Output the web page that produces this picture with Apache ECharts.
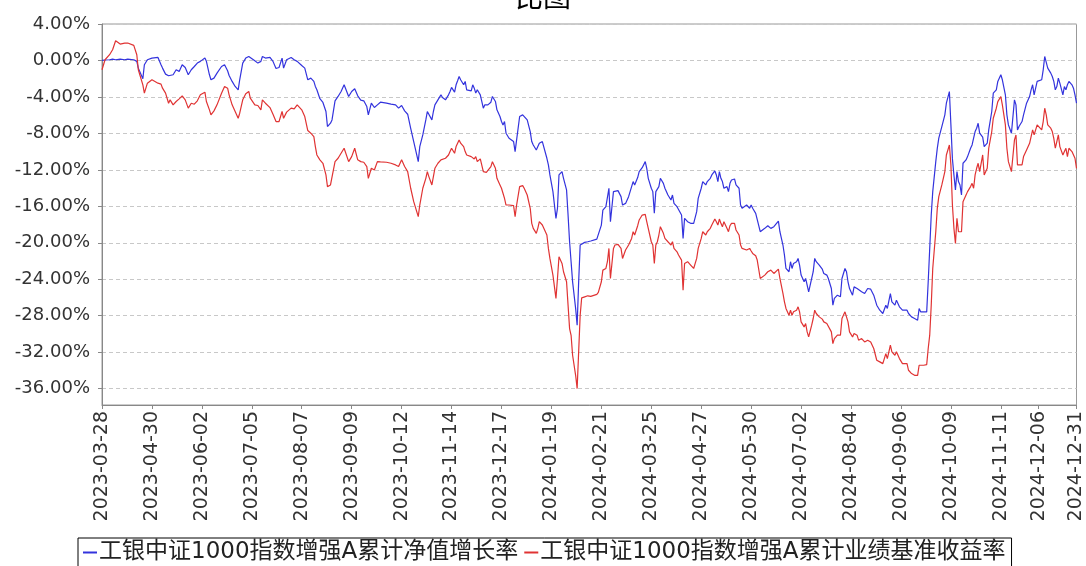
<!DOCTYPE html>
<html>
<head>
<meta charset="utf-8">
<script src="https://cdn.jsdelivr.net/npm/echarts@6/dist/echarts.min.js"></script>
<style>
html,body{margin:0;padding:0;background:#fff;}
#chart{width:1086px;height:566px;}
</style>
</head>
<body>
<div id="chart"></div>
<script>
const chartTitle = '比图';
const seriesNames = ['工银中证1000指数增强A累计净值增长率', '工银中证1000指数增强A累计业绩基准收益率'];
const xTickLabels = ['2023-03-28','2023-04-30','2023-06-02','2023-07-05','2023-08-07','2023-09-09','2023-10-12','2023-11-14','2023-12-17','2024-01-19','2024-02-21','2024-03-25','2024-04-27','2024-05-30','2024-07-02','2024-08-04','2024-09-06','2024-10-09','2024-11-11','2024-12-06','2024-12-31'];
const yTickValues = [4,0,-4,-8,-12,-16,-20,-24,-28,-32,-36];

const dates = [
'2023-03-28','2023-03-30','2023-04-02','2023-04-04','2023-04-06','2023-04-09','2023-04-12','2023-04-14','2023-04-18','2023-04-20','2023-04-21','2023-04-24','2023-04-25','2023-04-27','2023-04-30','2023-05-04','2023-05-06','2023-05-07','2023-05-09','2023-05-11','2023-05-12','2023-05-14','2023-05-16','2023-05-18','2023-05-20','2023-05-22','2023-05-24','2023-05-26','2023-05-28','2023-05-30','2023-06-01','2023-06-04','2023-06-05','2023-06-07','2023-06-08','2023-06-10','2023-06-12','2023-06-15','2023-06-17','2023-06-19','2023-06-20','2023-06-22','2023-06-24','2023-06-26','2023-06-27','2023-06-29','2023-07-01','2023-07-03',
'2023-07-04','2023-07-07','2023-07-09','2023-07-11','2023-07-12','2023-07-14','2023-07-17','2023-07-19','2023-07-21','2023-07-23','2023-07-25','2023-07-26','2023-07-28','2023-07-31','2023-08-02','2023-08-04','2023-08-07','2023-08-09','2023-08-11','2023-08-13','2023-08-15','2023-08-16','2023-08-17','2023-08-19','2023-08-21','2023-08-23','2023-08-24','2023-08-26','2023-08-27','2023-08-29','2023-08-31','2023-09-02','2023-09-04','2023-09-05','2023-09-07','2023-09-09','2023-09-11','2023-09-13','2023-09-15','2023-09-17','2023-09-19','2023-09-20','2023-09-22','2023-09-24','2023-09-26','2023-09-28','2023-10-02','2023-10-05','2023-10-08','2023-10-10','2023-10-12','2023-10-14','2023-10-16','2023-10-18','2023-10-20','2023-10-22','2023-10-23',
'2023-10-24','2023-10-26','2023-10-28','2023-10-29','2023-10-30','2023-11-01','2023-11-02','2023-11-03','2023-11-05','2023-11-07','2023-11-08','2023-11-10','2023-11-12','2023-11-13','2023-11-14','2023-11-16','2023-11-17','2023-11-18','2023-11-19','2023-11-20','2023-11-22','2023-11-23','2023-11-24','2023-11-25','2023-11-27','2023-11-28','2023-11-29','2023-11-30','2023-12-01','2023-12-03','2023-12-05','2023-12-06','2023-12-07','2023-12-08','2023-12-10','2023-12-11','2023-12-13','2023-12-14','2023-12-16','2023-12-17','2023-12-18','2023-12-19','2023-12-20','2023-12-22','2023-12-25','2023-12-26','2023-12-27','2023-12-29','2023-12-31','2024-01-01','2024-01-03','2024-01-05','2024-01-06','2024-01-07','2024-01-09','2024-01-10','2024-01-11','2024-01-13','2024-01-14','2024-01-16','2024-01-17','2024-01-18','2024-01-20','2024-01-22','2024-01-23','2024-01-24','2024-01-26','2024-01-27','2024-01-29','2024-01-30','2024-01-31','2024-02-01','2024-02-02','2024-02-04','2024-02-05','2024-02-06','2024-02-07','2024-02-08','2024-02-10','2024-02-12',
'2024-02-14','2024-02-18','2024-02-19','2024-02-21','2024-02-22','2024-02-24','2024-02-25','2024-02-26','2024-02-27','2024-02-29','2024-03-01','2024-03-03','2024-03-05','2024-03-06','2024-03-08','2024-03-10','2024-03-12','2024-03-13','2024-03-14','2024-03-16','2024-03-17','2024-03-19','2024-03-21','2024-03-22','2024-03-23','2024-03-25','2024-03-26','2024-03-27','2024-03-28','2024-03-29','2024-03-30','2024-03-31','2024-04-02','2024-04-03','2024-04-05','2024-04-07','2024-04-08','2024-04-09','2024-04-11','2024-04-12','2024-04-14','2024-04-15','2024-04-16','2024-04-18','2024-04-20','2024-04-22','2024-04-24','2024-04-25','2024-04-27','2024-04-28','2024-04-30','2024-05-01','2024-05-03','2024-05-04','2024-05-06','2024-05-07','2024-05-08','2024-05-09','2024-05-10','2024-05-11','2024-05-12','2024-05-14','2024-05-15','2024-05-16','2024-05-17','2024-05-19','2024-05-20','2024-05-22','2024-05-23','2024-05-24','2024-05-25','2024-05-27','2024-05-29','2024-05-30','2024-05-31','2024-06-02','2024-06-03','2024-06-05',
'2024-06-06','2024-06-08','2024-06-10','2024-06-12','2024-06-14','2024-06-15','2024-06-17','2024-06-18','2024-06-20','2024-06-21','2024-06-22','2024-06-24','2024-06-25','2024-06-26','2024-06-27','2024-06-29','2024-06-30','2024-07-01','2024-07-02','2024-07-04','2024-07-05','2024-07-06','2024-07-07','2024-07-09','2024-07-10','2024-07-11','2024-07-12','2024-07-14','2024-07-16','2024-07-17','2024-07-19','2024-07-20','2024-07-22','2024-07-23','2024-07-24','2024-07-26','2024-07-28','2024-07-29','2024-07-31','2024-08-01','2024-08-02','2024-08-03','2024-08-05','2024-08-06','2024-08-08','2024-08-09','2024-08-11','2024-08-12','2024-08-13','2024-08-15','2024-08-17','2024-08-18','2024-08-19','2024-08-21','2024-08-23','2024-08-24','2024-08-25','2024-08-27','2024-08-28','2024-08-30','2024-08-31','2024-09-02','2024-09-03','2024-09-05','2024-09-07','2024-09-08','2024-09-10','2024-09-11','2024-09-13','2024-09-15','2024-09-17','2024-09-18','2024-09-19','2024-09-21','2024-09-23',
'2024-09-24','2024-09-25','2024-09-26','2024-09-27','2024-09-29','2024-09-30','2024-10-01','2024-10-03','2024-10-05','2024-10-06','2024-10-08','2024-10-09','2024-10-10','2024-10-11','2024-10-12','2024-10-13','2024-10-14','2024-10-15','2024-10-16','2024-10-17','2024-10-19','2024-10-20','2024-10-22','2024-10-23','2024-10-24','2024-10-25','2024-10-26','2024-10-27','2024-10-28','2024-10-30','2024-10-31','2024-11-02','2024-11-03','2024-11-05','2024-11-06','2024-11-08','2024-11-09','2024-11-11','2024-11-12','2024-11-14','2024-11-15','2024-11-16','2024-11-18','2024-11-20','2024-11-21','2024-11-22','2024-11-23','2024-11-25','2024-11-26','2024-11-27','2024-11-28','2024-11-30','2024-12-01','2024-12-02','2024-12-03','2024-12-05','2024-12-06','2024-12-08','2024-12-09','2024-12-10','2024-12-11','2024-12-12','2024-12-14','2024-12-15','2024-12-16','2024-12-17','2024-12-18','2024-12-19','2024-12-20','2024-12-22','2024-12-23','2024-12-24','2024-12-25','2024-12-26','2024-12-27','2024-12-28','2024-12-29','2024-12-30','2024-12-31'
];

const navGrowth = [
0.00,0.05,0.08,0.15,0.08,0.15,0.08,0.15,0.08,-0.10,-0.84,-2.00,-0.47,0.08,0.26,0.33,-0.47,-0.84,-1.50,-1.68,-1.47,-1.57,-1.02,-1.20,-0.47,-0.77,-1.57,-1.02,-0.66,-0.29,-0.10,0.26,-0.10,-1.57,-2.12,-1.94,-1.39,-0.66,-0.47,-1.13,-1.65,-2.30,-2.85,-3.22,-2.12,-0.29,0.26,0.44,
0.26,-0.03,-0.29,-0.10,0.44,0.26,0.33,-0.10,-0.88,-0.77,0.26,-0.84,0.08,0.33,0.08,-0.10,-0.55,-0.84,-2.12,-1.94,-2.30,-2.85,-3.22,-4.20,-4.61,-5.60,-7.25,-6.88,-6.52,-4.43,-3.95,-3.40,-2.67,-2.49,-3.95,-3.40,-3.11,-3.88,-4.36,-4.43,-5.06,-5.97,-4.69,-5.16,-4.87,-4.58,-4.69,-4.80,-4.87,-5.23,-4.94,-5.53,-5.90,-7.44,-8.90,-10.37,-11.10,
-9.45,-8.17,-6.52,-5.60,-5.78,-6.52,-5.60,-4.87,-4.32,-3.77,-4.06,-4.32,-3.77,-3.40,-2.96,-3.48,-2.67,-2.23,-1.76,-2.12,-2.67,-2.30,-3.22,-3.22,-3.33,-2.67,-3.04,-3.58,-3.22,-3.77,-5.23,-4.87,-5.05,-4.87,-4.58,-3.95,-4.50,-5.42,-6.15,-6.70,-7.07,-6.70,-7.98,-8.53,-8.90,-10.00,-8.72,-6.15,-5.97,-6.15,-6.52,-7.80,-8.90,-9.27,-9.82,-9.63,-9.08,-8.90,-9.00,-10.73,-11.46,-12.56,-14.39,-17.32,-16.22,-12.56,-12.19,-12.93,-14.20,-16.96,-19.89,-22.09,-24.29,-27.20,-29.04,-24.29,-20.25,-20.07,-19.96,-19.89,
-19.81,-19.60,-19.45,-18.06,-16.41,-16.04,-15.86,-14.02,-17.69,-14.39,-14.20,-14.28,-14.94,-15.86,-15.68,-14.94,-13.84,-13.29,-13.66,-12.85,-12.19,-11.76,-11.10,-11.83,-12.93,-14.02,-14.39,-16.77,-14.39,-14.39,-13.84,-12.93,-13.48,-14.02,-14.76,-15.31,-14.76,-15.68,-16.04,-16.22,-16.96,-19.52,-17.32,-17.69,-17.87,-17.87,-16.59,-15.13,-14.02,-13.29,-13.66,-13.29,-12.93,-12.56,-12.12,-12.56,-13.29,-12.19,-12.93,-13.29,-14.02,-13.84,-14.39,-13.48,-13.11,-13.00,-13.66,-14.02,-15.86,-16.22,-16.04,-15.86,-16.22,-15.86,-16.22,-16.77,-16.96,-18.79,
-18.61,-18.42,-18.13,-18.42,-18.24,-18.42,-17.62,-18.79,-20.25,-21.35,-22.82,-23.18,-22.08,-22.82,-22.27,-22.08,-21.72,-22.45,-23.55,-24.28,-23.92,-24.65,-25.38,-23.92,-23.18,-21.72,-22.08,-22.45,-22.89,-23.37,-23.55,-23.92,-25.02,-26.85,-26.11,-25.75,-25.93,-23.92,-22.82,-23.18,-24.28,-25.02,-25.75,-24.84,-25.02,-25.20,-25.38,-25.20,-25.57,-25.02,-25.09,-25.02,-25.75,-26.85,-27.40,-27.21,-27.76,-26.85,-27.21,-25.57,-26.48,-26.85,-26.30,-27.03,-27.40,-27.58,-27.40,-27.76,-28.13,-28.31,-28.50,-27.21,-27.58,-27.58,-27.58,
-24.28,-20.62,-16.96,-14.39,-11.10,-9.64,-8.53,-7.25,-5.97,-4.69,-3.41,-7.07,-10.80,-12.56,-14.21,-12.19,-13.29,-13.66,-14.76,-11.28,-10.91,-10.55,-9.63,-9.27,-8.53,-7.80,-7.44,-6.89,-7.98,-8.42,-9.45,-9.08,-7.61,-5.60,-3.59,-3.22,-2.30,-1.57,-2.12,-3.77,-5.97,-7.07,-7.98,-4.32,-4.87,-7.62,-7.25,-6.70,-5.97,-5.79,-4.69,-3.96,-3.22,-2.67,-3.77,-2.30,-2.12,-2.12,-1.03,0.44,0.26,-0.84,-1.39,-1.76,-2.30,-3.22,-2.86,-1.94,-2.49,-3.77,-2.86,-3.22,-2.67,-2.30,-2.49,-2.67,-3.04,-3.77,-4.69
];

const benchmark = [
-1.02,0.08,0.63,1.18,2.16,1.80,1.91,1.91,1.65,0.63,-1.02,-2.68,-3.59,-2.49,-2.12,-2.49,-2.60,-3.04,-3.59,-4.69,-4.32,-4.87,-4.50,-4.21,-3.88,-4.32,-5.23,-4.69,-4.80,-4.43,-3.77,-3.48,-4.50,-5.42,-5.97,-5.53,-4.87,-3.59,-2.85,-3.04,-3.77,-4.87,-5.60,-6.34,-5.79,-4.32,-3.66,-3.40,
-4.14,-4.87,-4.94,-5.42,-4.32,-4.69,-5.17,-5.90,-6.70,-6.70,-5.60,-6.34,-5.67,-5.23,-5.31,-4.87,-5.42,-6.15,-7.69,-7.98,-8.35,-9.45,-10.37,-10.90,-11.28,-12.56,-13.84,-13.66,-13.48,-11.10,-10.73,-10.18,-9.63,-9.45,-11.10,-10.55,-9.63,-10.90,-11.10,-11.17,-11.64,-12.93,-11.83,-12.02,-11.10,-11.13,-11.17,-11.28,-11.46,-11.64,-10.90,-11.64,-12.19,-14.02,-15.49,-16.59,-17.14,
-15.86,-14.02,-12.93,-12.19,-12.74,-13.66,-12.74,-11.83,-11.28,-10.91,-11.10,-10.73,-10.37,-10.00,-9.63,-10.18,-9.45,-9.08,-8.72,-9.08,-9.45,-10.00,-10.37,-10.37,-10.55,-10.37,-10.80,-10.55,-11.10,-10.80,-12.19,-12.01,-12.27,-12.12,-11.64,-11.10,-11.83,-12.93,-13.66,-14.02,-14.57,-15.13,-15.86,-15.86,-15.93,-17.14,-15.86,-13.84,-13.73,-14.02,-14.76,-16.22,-17.87,-18.42,-18.97,-18.42,-17.69,-18.05,-18.24,-19.15,-20.62,-21.72,-23.55,-26.11,-23.92,-21.54,-22.27,-23.18,-24.28,-26.84,-29.41,-30.15,-32.34,-34.54,-36.00,-31.97,-27.94,-26.04,-25.93,-25.82,
-25.89,-25.67,-25.45,-24.28,-23.00,-22.82,-22.08,-20.62,-23.92,-20.62,-20.25,-20.18,-20.62,-21.72,-20.80,-20.25,-19.52,-18.79,-19.15,-18.13,-17.50,-16.96,-16.88,-17.69,-18.42,-19.89,-20.25,-22.27,-20.25,-19.89,-19.15,-18.24,-18.97,-19.52,-19.89,-20.25,-19.89,-20.62,-20.99,-21.35,-21.90,-25.20,-22.27,-22.08,-22.45,-22.82,-21.72,-20.62,-19.52,-18.79,-19.15,-18.79,-18.42,-18.05,-17.40,-17.69,-18.05,-17.40,-17.87,-18.24,-17.69,-18.42,-18.79,-18.13,-17.87,-17.87,-18.60,-19.15,-20.25,-20.62,-20.44,-20.80,-20.62,-20.91,-21.17,-21.43,-21.90,-23.92,
-23.73,-23.55,-23.18,-23.00,-23.37,-23.18,-22.89,-23.92,-25.56,-26.48,-27.21,-27.95,-27.40,-27.95,-27.58,-27.40,-27.03,-27.58,-28.68,-29.23,-28.86,-29.78,-30.33,-29.04,-28.31,-27.40,-27.76,-28.13,-28.38,-28.68,-28.86,-28.68,-29.78,-31.06,-30.51,-30.14,-30.14,-28.31,-27.58,-27.76,-28.68,-29.78,-30.33,-29.96,-30.14,-30.69,-30.51,-30.69,-30.88,-30.69,-30.88,-30.95,-31.60,-32.89,-33.07,-33.07,-33.26,-32.16,-32.71,-31.24,-31.97,-32.34,-31.97,-32.71,-33.26,-33.44,-33.26,-33.99,-34.35,-34.54,-34.54,-33.44,-33.62,-33.44,-33.37,
-31.60,-30.14,-26.85,-22.82,-18.79,-16.23,-14.94,-13.66,-12.19,-10.37,-9.27,-11.46,-15.86,-18.42,-20.07,-17.32,-18.79,-18.97,-18.79,-15.49,-14.76,-14.39,-13.84,-13.48,-14.02,-12.56,-11.83,-11.28,-12.19,-10.37,-12.56,-11.83,-9.63,-7.80,-6.34,-5.24,-4.51,-3.96,-4.87,-7.07,-9.63,-11.10,-12.19,-8.72,-8.17,-11.46,-11.65,-11.46,-10.55,-10.44,-9.82,-9.09,-8.35,-7.62,-8.17,-7.07,-7.25,-7.62,-6.70,-5.24,-5.97,-7.07,-7.43,-7.80,-8.54,-9.63,-8.90,-8.17,-9.45,-10.37,-10.00,-9.63,-10.55,-9.63,-9.82,-10.00,-10.18,-10.73,-11.83
];

function parseDay(s) {
  const p = s.split('-').map(Number);
  return Date.UTC(p[0], p[1] - 1, p[2]);
}
function pad2(n) { return (n < 10 ? '0' : '') + n; }
function formatDay(t) {
  const d = new Date(t);
  return d.getUTCFullYear() + '-' + pad2(d.getUTCMonth() + 1) + '-' + pad2(d.getUTCDate());
}
const xTickValues = xTickLabels.map(parseDay);

const fontFamily = '"DejaVu Sans", "Noto Sans CJK SC", sans-serif';
const chart = echarts.init(document.getElementById('chart'));
chart.setOption({
  animation: false,
  backgroundColor: '#ffffff',
  title: {
    text: chartTitle,
    left: 'center',
    top: -19,
    textStyle: { fontSize: 28, fontWeight: 'normal', color: '#000', fontFamily: fontFamily }
  },
  legend: {
    data: seriesNames,
    left: 78,
    top: 538,
    padding: [3, 6, 10, 5],
    itemGap: 6,
    itemWidth: 14,
    itemHeight: 2,
    icon: 'rect',
    borderColor: '#000',
    borderWidth: 1,
    textStyle: { fontSize: 23, color: '#222', fontFamily: fontFamily, padding: [0, 0, 0, -3] }
  },
  grid: {
    left: 102, right: 9, top: 24, bottom: 161,
    show: true, borderColor: '#999', borderWidth: 1, backgroundColor: '#fff'
  },
  xAxis: {
    type: 'value',
    min: parseDay(dates[0]),
    max: parseDay(dates[dates.length - 1]),
    axisLine: { show: true, onZero: false, lineStyle: { color: '#888', width: 1 } },
    axisTick: { show: true, length: 4, lineStyle: { color: '#888' }, customValues: xTickValues },
    splitLine: { show: false },
    axisLabel: {
      customValues: xTickValues,
      rotate: 90,
      margin: 6,
      fontSize: 19,
      color: '#333',
      fontFamily: fontFamily,
      hideOverlap: false,
      showMinLabel: true,
      showMaxLabel: true,
      formatter: function (v) { return formatDay(v); }
    }
  },
  yAxis: {
    type: 'value',
    min: -37.8,
    max: 4,
    axisLine: { show: true, lineStyle: { color: '#888', width: 1 } },
    axisTick: { show: true, length: 4, lineStyle: { color: '#888' }, customValues: yTickValues },
    splitLine: { show: true, lineStyle: { color: '#c8c8c8', type: [4, 3], width: 1 } },
    axisLabel: {
      customValues: yTickValues,
      margin: 12,
      fontSize: 18,
      color: '#333',
      fontFamily: fontFamily,
      formatter: function (v) { return v.toFixed(2) + '%'; }
    }
  },
  series: [
    {
      name: seriesNames[0],
      type: 'line',
      showSymbol: false,
      symbol: 'none',
      color: '#3333dd',
      lineStyle: { width: 1.2, color: '#3333dd' },
      data: dates.map(function (d, i) { return [parseDay(d), navGrowth[i]]; })
    },
    {
      name: seriesNames[1],
      type: 'line',
      showSymbol: false,
      symbol: 'none',
      color: '#e03333',
      lineStyle: { width: 1.2, color: '#e03333' },
      data: dates.map(function (d, i) { return [parseDay(d), benchmark[i]]; })
    }
  ]
});
</script>
</body>
</html>
